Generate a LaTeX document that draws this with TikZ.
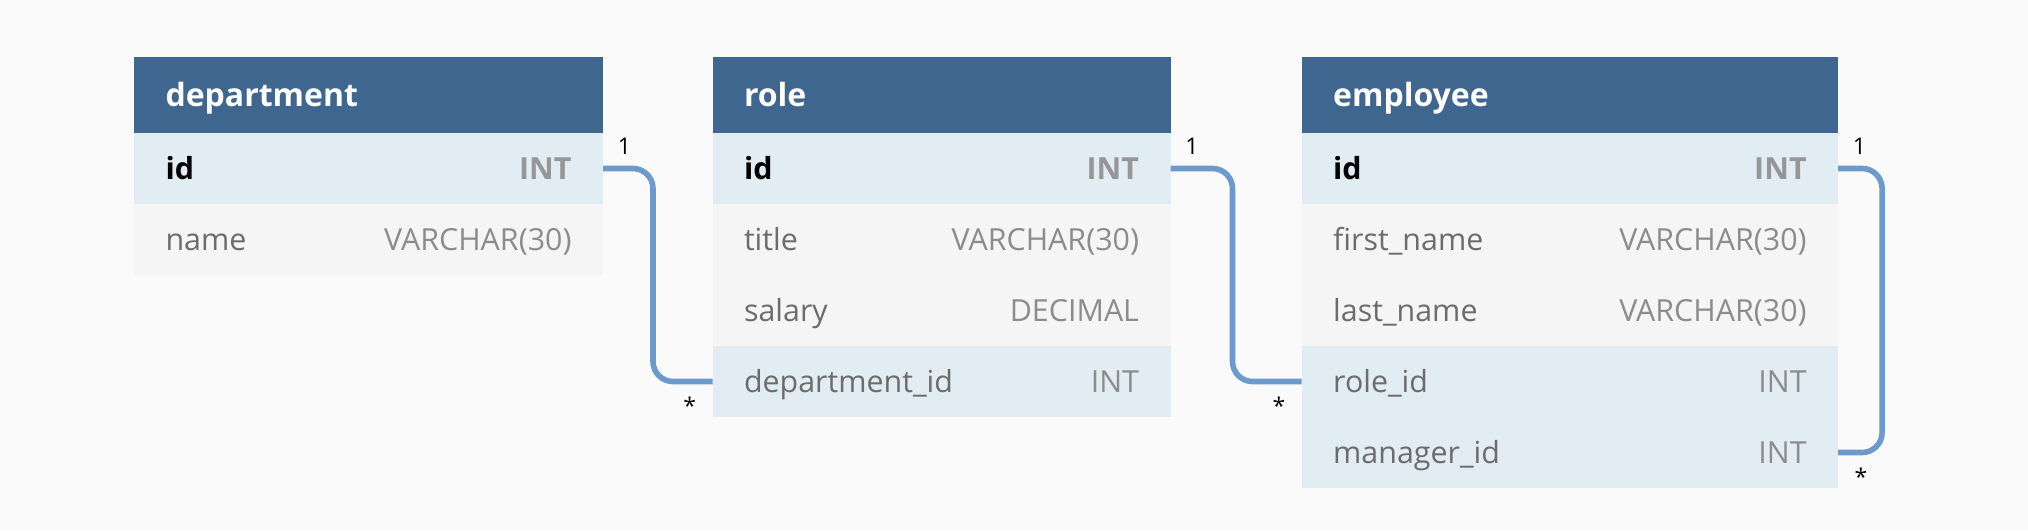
\documentclass[tikz,border=0pt]{standalone}
\usepackage{fontspec}
\setmainfont{Open Sans}
\usetikzlibrary{positioning}
\definecolor{bgc}{RGB}{250,250,250}
\definecolor{hdrc}{RGB}{63,102,143}
\definecolor{keyc}{RGB}{225,236,243}
\definecolor{rowc}{RGB}{245,245,245}
\definecolor{namec}{RGB}{108,108,108}
\definecolor{typec}{RGB}{140,140,140}
\definecolor{pkc}{RGB}{150,150,150}
\definecolor{linkc}{RGB}{108,155,203}
\newcommand\pkfld[2]{\textbf{#1}\hfill\textcolor{pkc}{\textbf{#2}}}
\newcommand\fld[2]{\textcolor{namec}{#1}\hfill\textcolor{typec}{#2}}
\tikzset{
  cell/.style={minimum height=35.5pt,inner ysep=0pt,inner xsep=15.75pt,outer sep=0pt,
    text height=11pt,text depth=0pt,align=left,font=\fontsize{15.2}{18}\selectfont},
  hdr/.style={cell,fill=hdrc,text=white,minimum height=38pt,
    font=\fontsize{16}{18}\selectfont\bfseries},
  keyrow/.style={cell,fill=keyc},
  plainrow/.style={cell,fill=rowc},
  link/.style={linkc,line width=2.8pt,rounded corners=10pt},
  card/.style={inner sep=0pt,font=\fontsize{11.5}{13}\selectfont}
}
\begin{document}
\begin{tikzpicture}
\useasboundingbox[fill=bgc](0,0)rectangle(1014pt,-265pt);
% department
\begin{scope}[every node/.append style={text width=203pt}]
\node[hdr,anchor=north west](dept)at(67pt,-28.5pt){department};
\node[keyrow,below=0pt of dept](dept-id){\pkfld{id}{INT}};
\node[plainrow,below=0pt of dept-id](dept-name){\fld{name}{VARCHAR(30)}};
\end{scope}
% role
\begin{scope}[every node/.append style={text width=197.5pt}]
\node[hdr,anchor=north west](role)at(356.25pt,-28.5pt){role};
\node[keyrow,below=0pt of role](role-id){\pkfld{id}{INT}};
\node[plainrow,below=0pt of role-id](role-title){\fld{title}{VARCHAR(30)}};
\node[plainrow,below=0pt of role-title](role-salary){\fld{salary}{DECIMAL}};
\node[keyrow,below=0pt of role-salary](role-dept){\fld{department\_id}{INT}};
\end{scope}
% employee
\begin{scope}[every node/.append style={text width=236.7pt}]
\node[hdr,anchor=north west](emp)at(650.85pt,-28.5pt){employee};
\node[keyrow,below=0pt of emp](emp-id){\pkfld{id}{INT}};
\node[plainrow,below=0pt of emp-id](emp-first){\fld{first\_name}{VARCHAR(30)}};
\node[plainrow,below=0pt of emp-first](emp-last){\fld{last\_name}{VARCHAR(30)}};
\node[keyrow,below=0pt of emp-last](emp-role){\fld{role\_id}{INT}};
\node[keyrow,below=0pt of emp-role](emp-mgr){\fld{manager\_id}{INT}};
\end{scope}
% links
\draw[link](dept-id.east)--++(25pt,0)|-(role-dept.west);
\draw[link](role-id.east)--++(31pt,0)|-(emp-role.west);
\draw[link](emp-id.east)--++(22pt,0)|-(emp-mgr.east);
\node[card,above right=6.6pt and 7.2pt of dept-id.east](one1){1};
\node[card,below left=7.6pt and 8pt of role-dept.west](many1){*};
\node[card,above right=6.6pt and 7.2pt of role-id.east](one2){1};
\node[card,below left=7.6pt and 8pt of emp-role.west](many2){*};
\node[card,above right=6.6pt and 7.2pt of emp-id.east](one3){1};
\node[card,below right=7.6pt and 8pt of emp-mgr.east](many3){*};
\end{tikzpicture}
\end{document}
